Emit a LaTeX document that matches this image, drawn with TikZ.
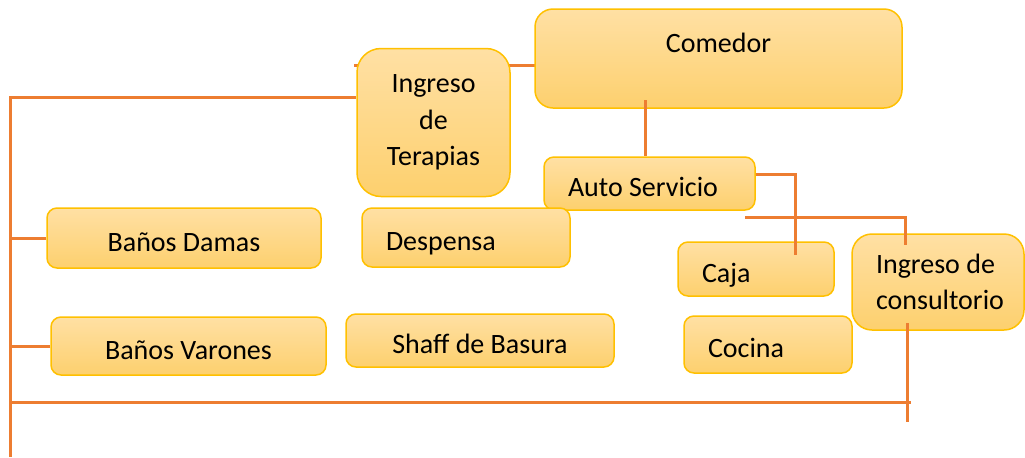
\documentclass[tikz,border=0pt]{standalone}
\usepackage{fontspec}
\setmainfont{Carlito}
\usetikzlibrary{backgrounds}
\definecolor{roomtop}{HTML}{FFE0A4}
\definecolor{roombot}{HTML}{FDD06E}
\definecolor{roomline}{HTML}{FFC000}
\definecolor{linkorange}{HTML}{ED7D31}
\begin{document}
\begin{tikzpicture}[
    x=0.5pt, y=-0.5pt,
    room/.style={rectangle, draw=roomline, line width=0.75pt, top color=roomtop, bottom color=roombot, rounded corners=5pt, font=\fontsize{14}{18.25}\selectfont},
    oneline/.style={text height=13pt, text depth=0pt},
    padleft/.style={inner xsep=12pt, align=flush left},
    link/.style={draw=linkorange, line width=1.5pt}
]
\useasboundingbox (0,0) rectangle (1025,457);

% Upper rooms
\node[room, rounded corners=9pt, minimum width=183.5pt, minimum height=49.5pt, text height=9pt, text depth=15.5pt] (comedor) at (718.5,58.5) {Comedor};
\node[room, rounded corners=12pt, minimum width=76.5pt, minimum height=74pt, align=center] (terapias) at (433.5,122.5) {Ingreso\\de\\Terapias};
\node[room, oneline, padleft, text width=81.5pt, minimum height=26.5pt] (autosrv) at (649.5,183.5) {Auto Servicio};

% Middle rooms
\node[room, oneline, minimum width=137pt, minimum height=30pt] (banosd) at (184,238) {Baños Damas};
\node[room, oneline, padleft, text width=80pt, minimum height=29.5pt] (despensa) at (466,237.5) {Despensa};
\node[room, oneline, padleft, text width=54pt, minimum height=27pt] (caja) at (756,269) {Caja};
\node[room, rounded corners=10pt, padleft, text width=62pt, minimum height=48pt] (consultorio) at (938,282) {Ingreso de\\consultorio};

% Lower rooms
\node[room, oneline, minimum width=137.5pt, minimum height=29pt] (banosv) at (188.5,346) {Baños Varones};
\node[room, oneline, minimum width=134pt, minimum height=26.5pt] (shaff) at (480,340.5) {Shaff de Basura};
\node[room, oneline, padleft, text width=60pt, minimum height=28.5pt] (cocina) at (768,344.5) {Cocina};

% Free ends of the lines
\coordinate (trunktop) at (10,97);
\coordinate (trunkbot) at (10,457);
\coordinate (bottomL) at (10,402);
\coordinate (bottomR) at (911,402);
\coordinate (linkstub) at (354,65);
\coordinate (linkend) at (543,65);
\coordinate (dinefoot) at (645,100);
\coordinate (autobend) at (795,174);
\coordinate (cajatip) at (795,255);
\coordinate (splitL) at (745,217);
\coordinate (consulttip) at (905,245);
\coordinate (consultin) at (907,323);
\coordinate (consultbot) at (907,422);

% Connections
\begin{scope}[on background layer]
\draw[link] (linkstub) -- (linkend);
\end{scope}
\draw[link] (trunkbot) -- (trunktop) -- (trunktop -| terapias.west);
\draw[link] (banosd.west) -- (banosd.west -| trunktop);
\draw[link] (banosv.west) -- (banosv.west -| trunktop);
\draw[link] (bottomL) -- (bottomR);
\draw[link] (consultin) -- (consultbot);
\draw[link] (dinefoot) -- (dinefoot |- autosrv.north);
\draw[link] (autobend -| autosrv.east) -| (cajatip);
\draw[link] (splitL) -| (consulttip);

\end{tikzpicture}
\end{document}
